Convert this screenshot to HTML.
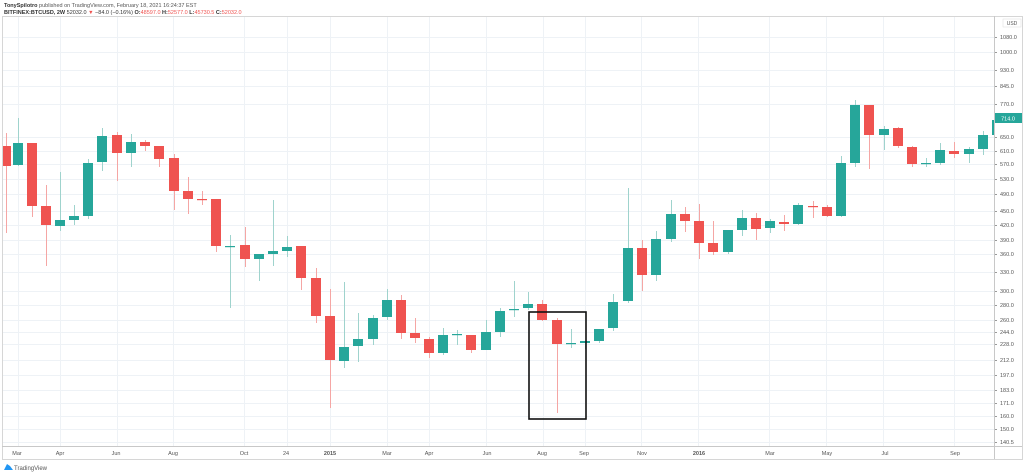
<!DOCTYPE html>
<html><head><meta charset="utf-8"><style>
html,body{margin:0;padding:0;background:#fff;width:1024px;height:474px;overflow:hidden}
svg{display:block;font-family:"Liberation Sans",sans-serif}
</style></head><body>
<svg id="s" width="1024" height="474" viewBox="0 0 1024 474" xmlns="http://www.w3.org/2000/svg">
<rect width="1024" height="474" fill="#fff"/>
<text x="4" y="7" font-size="5.5" fill="#555"><tspan font-weight="bold" fill="#333">TonySpilotro</tspan> published on TradingView.com, February 18, 2021 16:24:37 EST</text>
<text x="4" y="14" font-size="5.5" fill="#333"><tspan font-weight="bold">BITFINEX:BTCUSD, 2W</tspan> 52032.0 <tspan fill="#ef5350">▼</tspan> −84.0 (−0.16%) <tspan font-weight="bold">O:</tspan><tspan fill="#ef5350">48597.0</tspan> <tspan font-weight="bold">H:</tspan><tspan fill="#ef5350">52577.0</tspan> <tspan font-weight="bold">L:</tspan><tspan fill="#ef5350">45730.5</tspan> <tspan font-weight="bold">C:</tspan><tspan fill="#ef5350">52032.0</tspan></text>
<g id="grid" stroke="#eef2f6" stroke-width="1"></g>
<rect x="2.5" y="16.5" width="1020" height="443" fill="none" stroke="#d6d6d6"/>
<line x1="994.5" y1="16" x2="994.5" y2="459" stroke="#c8c8c8"/>
<line x1="2" y1="446.5" x2="1022" y2="446.5" stroke="#c8c8c8"/>
<g id="yl" font-size="5.5" fill="#555"></g>
<g id="xl" font-size="5.5" fill="#555" text-anchor="middle">
<text x="17" y="455">Mar</text><text x="60" y="455">Apr</text><text x="116" y="455">Jun</text><text x="173" y="455">Aug</text><text x="244" y="455">Oct</text><text x="286" y="455">24</text><text x="330" y="455" font-weight="bold">2015</text><text x="387" y="455">Mar</text><text x="429" y="455">Apr</text><text x="487" y="455">Jun</text><text x="542" y="455">Aug</text><text x="584" y="455">Sep</text><text x="642" y="455">Nov</text><text x="699" y="455" font-weight="bold">2016</text><text x="770" y="455">Mar</text><text x="827" y="455">May</text><text x="885" y="455">Jul</text><text x="955" y="455">Sep</text>
</g>
<g id="c"></g>
<rect x="529" y="312" width="57" height="107" fill="none" stroke="#111" stroke-width="1.6"/>
<rect x="995" y="113" width="27" height="10" fill="#26a69a"/>
<text x="1008" y="120.5" font-size="5.5" fill="#fff" text-anchor="middle">714.0</text>
<rect x="1003" y="19" width="18" height="8" fill="#fff" stroke="#ddd" stroke-width="0.5"/>
<text x="1012" y="25" font-size="5" fill="#555" text-anchor="middle">USD</text>
<path d="M4 470 L7 464 L10 466 L13 470 Z" fill="#2196f3"/>
<text x="14" y="470" font-size="6" fill="#555">TradingView</text>
</svg>
<script>
var NS="http://www.w3.org/2000/svg";
function el(t,a,p){var e=document.createElementNS(NS,t);for(var k in a)e.setAttribute(k,a[k]);document.getElementById(p).appendChild(e);return e;}
var ticks=[[1080,37],[1000,52],[930,70],[845,86],[770,104],[650,137],[610,151],[570,164],[530,179],[490,194],[450,211],[420,225],[390,240],[360,254],[330,272],[300,291],[280,305],[260,320],[244,332],[228,344],[212,360],[197,375],[183,390],[171,403],[160,416],[150,429],[140.5,442]];
ticks.forEach(function(t){el("line",{x1:3,x2:994,y1:t[1]+.5,y2:t[1]+.5},"grid");
var tx=el("text",{x:1000,y:t[1]+2},"yl");tx.textContent=t[0].toFixed(1);
el("line",{x1:994,x2:997,y1:t[1]+.5,y2:t[1]+.5,stroke:"#999"},"grid");});
[18,60,117,173,244,287,330,387,429,486,543,585,641,698,769,826,883,954].forEach(function(x){el("line",{x1:x+.5,x2:x+.5,y1:17,y2:446},"grid");});
var C=[
[6,146,166,133,233,0],[18,143,165,118,166,1],[32,143,206,143,217,0],[46,206,225,185,266,0],[60,220,226,172,231,1],[74,216,220,205,225,1],[88,163,216,159,219,1],[102,136,162,128,171,1],[117,135,153,132,181,0],[131,142,153,134,167,1],[145,142,146,140,151,0],[159,146,159,146,167,0],[174,158,191,154,210,0],[188,191,199,177,214,0],[202,199,199,191,205,0],[216,199,246,199,252,0],[230,246,246,235,308,1],[245,245,259,227,267,0],[259,254,259,254,281,1],[273,251,254,200,266,1],[287,247,251,236,257,1],[301,246,278,246,290,0],[316,278,316,268,323,0],[330,316,360,289,408,0],
[344,347,361,282,368,1],[358,339,346,313,362,1],[373,318,339,315,345,1],[387,300,317,289,320,1],[401,300,333,295,339,0],[415,333,338,318,343,0],[429,339,353,337,358,0],[443,335,353,328,355,1],[457,334,334,330,345,1],[471,335,350,335,353,0],[486,332,350,320,350,1],[500,311,332,308,337,1],[514,309,310,281,317,1],[528,304,308,292,310,1],[542,304,320,300,321,0],[557,320,344,318,413,0],[571,343,344,329,348,1],[585,341,343,341,349,1],[599,329,341,329,343,1],[613,302,328,294,331,1],[628,248,301,188,303,1],[642,248,275,240,291,0],[656,239,275,231,281,1],
[671,214,239,200,242,1],[685,214,221,207,232,0],[699,221,243,204,259,0],[713,243,252,221,255,0],[728,230,252,230,254,1],[742,218,230,210,236,1],[756,218,229,213,240,0],[770,221,228,219,233,1],[784,222,224,215,231,0],[798,205,224,203,225,1],[813,206,207,201,218,0],[827,207,216,205,217,0],[841,163,216,156,217,1],[855,105,163,100,167,1],[869,105,135,105,169,0],[884,129,135,126,150,1],[898,128,146,127,148,0],[912,147,164,146,167,0],[926,163,164,158,167,1],[940,150,163,143,165,1],[954,151,154,142,158,0],[969,149,154,147,163,1],[983,135,149,131,155,1]];
C.forEach(function(c){var col=c[5]?"#26a69a":"#ef5350",wc=c[5]?"#9fd3cd":"#f5a6a4";
el("line",{x1:c[0]+.5,x2:c[0]+.5,y1:c[3],y2:c[4],stroke:wc,"stroke-width":1},"c");
var h=Math.max(1.2,c[2]-c[1]);var x0=Math.max(3,c[0]-5);var w=c[0]+5-x0;
el("rect",{x:x0,y:c[1],width:w,height:h,fill:col},"c");});
el("rect",{x:992,y:120,width:2,height:15,fill:"#26a69a"},"c");
</script>
</body></html>
